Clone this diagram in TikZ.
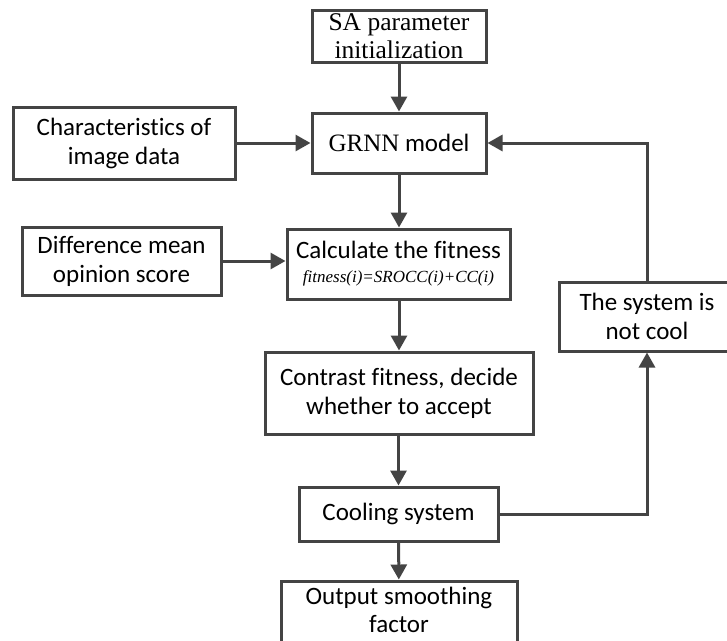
\documentclass[tikz,border=0pt]{standalone}
\usepackage{fontspec}
\setmainfont{Liberation Serif}
\newfontfamily\calfont[Ligatures=NoCommon]{Carlito}
\usetikzlibrary{arrows.meta}
\definecolor{lc}{HTML}{444444}
\begin{document}
\begin{tikzpicture}[x=1pt,y=-1pt,
  box/.style={draw=lc, line width=3pt, fill=white, align=center, inner sep=0pt,
    font=\fontsize{25}{29}\selectfont\calfont},
  arr/.style={draw=lc, line width=3pt, -{Triangle[length=15pt,width=16pt]}}]
\useasboundingbox (0,0) rectangle (727,640);
\node[box, minimum width=174pt, minimum height=52pt, font=\fontsize{25.5}{28}\selectfont\rmfamily] (sa) at (399,36) {SA parameter\\initialization};
\node[box, minimum width=174pt, minimum height=60pt] (grnn) at (399,143) {{\rmfamily GRNN} model};
\node[box, minimum width=222pt, minimum height=72pt] (char) at (124,143) {Characteristics of\\image data};
\node[box, minimum width=199pt, minimum height=68pt] (diff) at (121.5,261) {Difference mean\\opinion score};
\node[box, minimum width=223pt, minimum height=70pt] (calc) at (398.5,264) {Calculate the fitness\\[-5pt]{\fontsize{17}{18}\selectfont\rmfamily\itshape fitness(i)=SROCC(i)+CC(i)}};
\node[box, minimum width=268pt, minimum height=82pt] (con) at (399,393) {Contrast fitness, decide\\whether to accept};
\node[box, minimum width=199pt, minimum height=54pt] (cool) at (398.5,514) {Cooling system};
\node[box, minimum width=236pt, minimum height=64pt] (out) at (399,613) {\raisebox{6pt}{\begin{tabular}{@{}c@{}}Output smoothing\\[-1pt]factor\end{tabular}}};
\node[box, minimum width=176pt, minimum height=69pt] (nc) at (647,316.5) {The system is\\not cool};
\draw[arr] (sa) -- (grnn);
\draw[arr] (char) -- (grnn);
\draw[arr] (grnn) -- (calc.north -| grnn);
\draw[arr] (diff.east) -- (diff.east -| calc.west);
\draw[arr] (calc.south -| con) -- (con);
\draw[arr] (con.south -| cool) -- (cool);
\draw[arr] (cool) -- (out);
\draw[arr] (cool.east) -| (nc.south);
\draw[arr] (nc.north) |- (grnn.east);
\end{tikzpicture}
\end{document}
